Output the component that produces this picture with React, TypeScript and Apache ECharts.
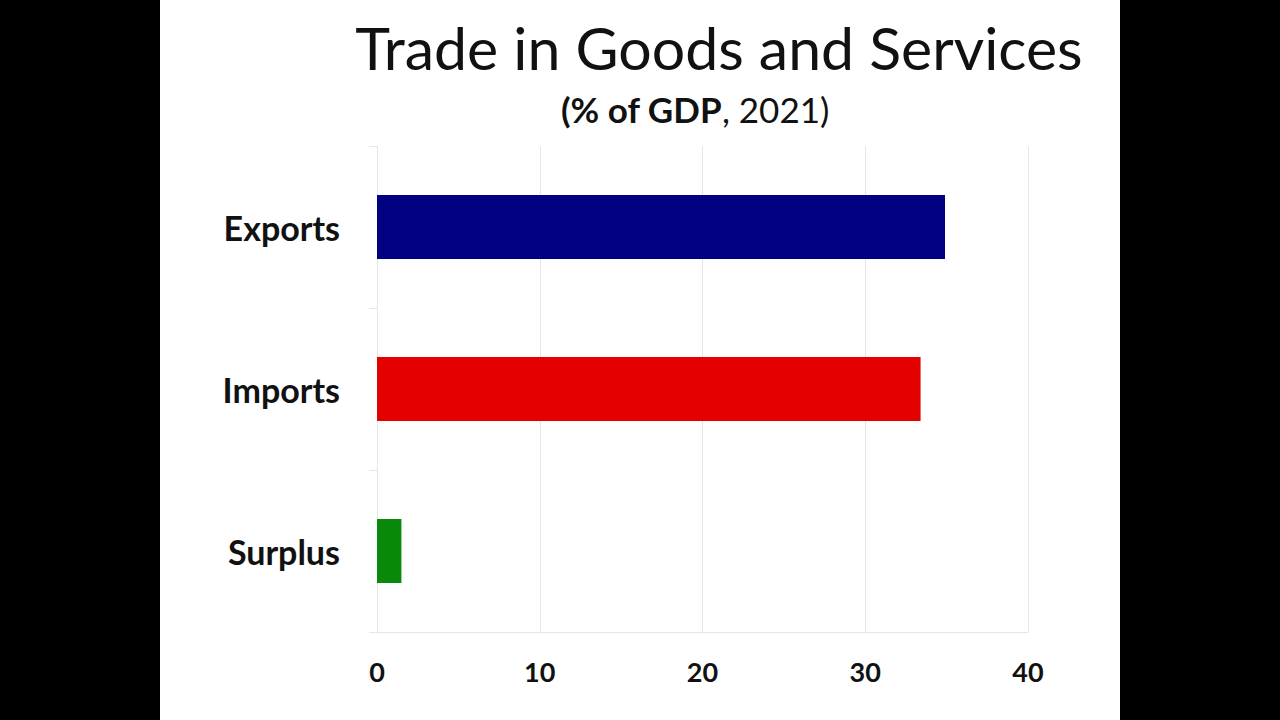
import React, { useEffect, useRef } from "react";
import * as echarts from "echarts";

const categories = ["Exports", "Imports", "Surplus"];
const values = [34.9, 33.4, 1.5];
const barColors = ["#000080", "#e50000", "#0a880a"];
const xTicks = [0, 10, 20, 30, 40];
const titleText = "Trade in Goods and Services";

export default function App() {
  const ref = useRef<HTMLDivElement>(null);
  useEffect(() => {
    if (!ref.current) return;
    const chart = echarts.init(ref.current, undefined, { renderer: "svg" });
    const font = "Lato, 'Open Sans', sans-serif";
    chart.setOption({
      animation: false,
      backgroundColor: "#000000",
      graphic: [
        {
          type: "rect",
          shape: { x: 160, y: 0, width: 960, height: 720 },
          style: { fill: "#ffffff" },
          z: -10,
        },
        {
          type: "text",
          x: 719,
          y: 47,
          style: {
            text: titleText,
            font: `400 59px ${font}`,
            fill: "#111111",
            align: "center",
            verticalAlign: "middle",
          },
        },
        {
          type: "text",
          x: 695,
          y: 109,
          style: {
            text: "{b|(% of GDP}{n|, 2021)}",
            align: "center",
            verticalAlign: "middle",
            rich: {
              b: { font: `700 35px ${font}`, fill: "#111111" },
              n: { font: `400 35px ${font}`, fill: "#111111" },
            },
          },
        },
      ],
      grid: { left: 377, right: 252, top: 146, bottom: 88, containLabel: false },
      xAxis: {
        type: "value",
        min: 0,
        max: 40,
        interval: 10,
        axisLine: { show: true, lineStyle: { color: "#e6e6e6", width: 1 } },
        axisTick: { show: false },
        splitLine: { show: true, lineStyle: { color: "#e6e6e6", width: 1 } },
        axisLabel: {
          formatter: (v: number) => (xTicks.includes(v) ? String(v) : ""),
          color: "#111111",
          fontFamily: font,
          fontWeight: "bold",
          fontSize: 27,
          margin: 26,
        },
      },
      yAxis: {
        type: "category",
        data: categories,
        inverse: true,
        axisLine: { show: true, lineStyle: { color: "#e6e6e6", width: 1 } },
        axisTick: { show: true, length: 8, lineStyle: { color: "#e6e6e6" } },
        axisLabel: {
          color: "#111111",
          fontFamily: font,
          fontWeight: "bold",
          fontSize: 34,
          margin: 37,
        },
      },
      series: [
        {
          type: "bar",
          data: values.map((v, i) => ({ value: v, itemStyle: { color: barColors[i] } })),
          barWidth: 64,
        },
      ],
    });
    return () => chart.dispose();
  }, []);
  return (
    <div
      ref={ref}
      style={{ position: "fixed", left: 0, top: 0, width: 1280, height: 720 }}
    />
  );
}
